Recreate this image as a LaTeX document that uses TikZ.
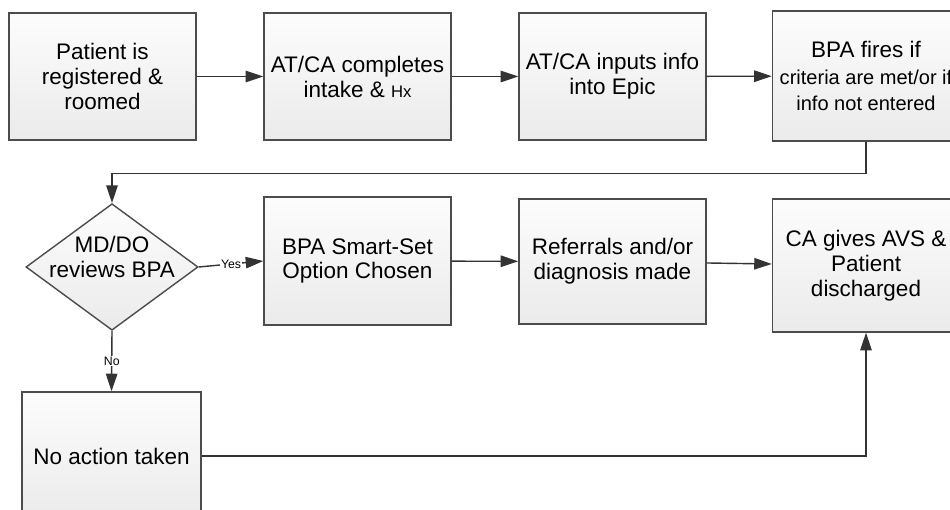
\documentclass[tikz,border=0pt]{standalone}
\usepackage{fontspec}
\setmainfont{Liberation Sans}
\usetikzlibrary{shapes.geometric,arrows.meta,shadows}

\tikzset{
	proc/.style={draw=black!70, line width=0.8pt, top color=gray!2, bottom color=gray!16,
		minimum width=3.74cm, minimum height=2.54cm, inner sep=0pt, align=center,
		font=\fontsize{12.8}{14.2}\selectfont,
		drop shadow={opacity=0.2, shadow xshift=0.5pt, shadow yshift=-0.5pt}},
	choice/.style={diamond, aspect=1.36, draw=black!70, line width=0.8pt, top color=gray!2, bottom color=gray!16,
		inner sep=-2.6pt, align=center, font=\fontsize{12.8}{14.2}\selectfont},
	link/.style={draw=black!80, line width=0.8pt, -{Triangle[length=10pt,width=6.5pt]}},
	tag/.style={fill=white, inner sep=0.6pt, font=\fontsize{7}{8}\selectfont}
}

\begin{document}
\begin{tikzpicture}
	
	\useasboundingbox (0,0) rectangle (19,10.2);
	\clip (0,0) rectangle (19,10.2);
	
	% first row
	\node[proc] (reg) at (2.05,8.67) {Patient is\\registered \&\\roomed};
	\node[proc] (intake) at (7.15,8.67) {AT/CA completes\\intake \& {\fontsize{9.5}{10}\selectfont Hx}};
	\node[proc] (epic) at (12.25,8.67) {AT/CA inputs info\\into Epic};
	\node[proc, minimum height=2.6cm, font=\fontsize{11.4}{15}\selectfont] (fire) at (17.32,8.68)
		{{\fontsize{12.8}{15}\selectfont BPA fires if}\\criteria are met/or if\\info not entered};
	
	% second row
	\node[choice] (review) at (2.24,4.86)
		{\raisebox{4pt}[\height][\depth]{\begin{tabular}{@{}c@{}}MD/DO\\reviews BPA\end{tabular}}};
	\node[proc, minimum height=2.56cm] (smart) at (7.15,4.98) {BPA Smart-Set\\Option Chosen};
	\node[proc, minimum height=2.5cm] (refer) at (12.25,4.97) {Referrals and/or\\diagnosis made};
	\node[proc, minimum height=2.66cm] (avs) at (17.32,4.89) {CA gives AVS \&\\Patient\\discharged};
	
	% third row
	\node[proc, minimum width=3.58cm, minimum height=2.56cm] (none) at (2.23,1.08) {No action taken};
	
	\draw[link] (reg) -- (intake);
	\draw[link] (intake) -- (epic);
	\draw[link] (epic) -- (fire);
	\draw[link] (fire.south) -- ++(0,-0.64) -| (review.north);
	\draw[link] (review.east) -- node[tag] {Yes} (smart.west);
	\draw[link] (smart) -- (refer);
	\draw[link] (refer) -- (avs);
	\draw[link] (review.south) -- node[tag] {No} (none.north);
	\draw[link] (none.east) -| (avs.south);
	
\end{tikzpicture}
\end{document}
